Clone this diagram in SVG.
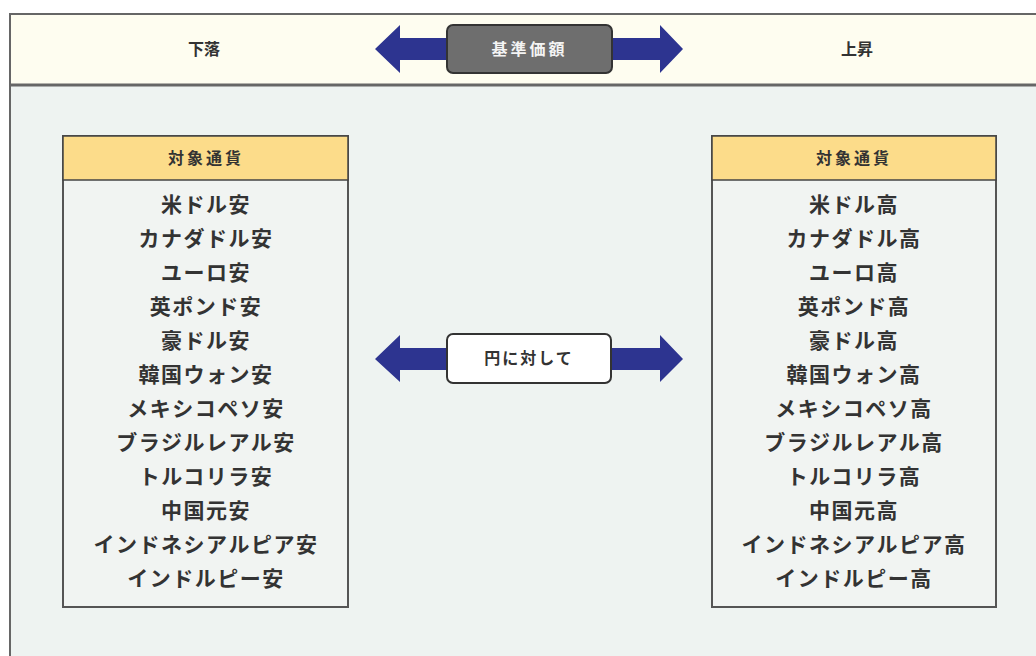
<svg xmlns="http://www.w3.org/2000/svg" width="1036" height="656" viewBox="0 0 1036 656">
<style>
.t{font-family:"Noto Sans CJK JP","Noto Sans CJK SC",sans-serif;font-weight:700;fill:#333;text-anchor:middle}
.sm{font-size:16px}
.it{font-size:21px;letter-spacing:1.5px}
.arrow{fill:#2d3490}
.box{fill:#f1f4f2;stroke:#555;stroke-width:2}
.hdr{fill:#fcdc8a;stroke:#444;stroke-width:1.5}
</style>
<rect width="1036" height="656" fill="#ffffff"/>
<g id="frame">
<rect x="10" y="14" width="1040" height="660" fill="#eef3f1" stroke="#666" stroke-width="2"/>
<rect x="10" y="14" width="1040" height="71" fill="#fefdf0" stroke="#666" stroke-width="2"/>
<line x1="10" y1="85" x2="1036" y2="85" stroke="#666" stroke-width="3"/>
</g>
<g id="connectors">
<polygon class="arrow" points="375,49 400,25 400,38 660,38 660,25 683,49 660,73 660,60 400,60 400,73"/>
<polygon class="arrow" points="375,359 400,335 400,348 660,348 660,335 683,359 660,382 660,370 400,370 400,382"/>
</g>
<g id="label-down"><text class="t sm" x="204" y="55">下落</text></g>
<g id="label-up"><text class="t sm" x="857" y="55">上昇</text></g>
<g id="base">
<rect x="447" y="25" width="165" height="48" rx="6" fill="#6e6e6e" stroke="#333" stroke-width="2"/>
<text class="t sm" x="529.5" y="55" style="fill:#f4f4f4;letter-spacing:3px">基準価額</text>
</g>
<g id="vs-yen">
<rect x="447" y="334" width="164" height="49" rx="6" fill="#ffffff" stroke="#333" stroke-width="2"/>
<text class="t sm" x="529" y="364" style="letter-spacing:2px">円に対して</text>
</g>
<g id="left-box">
<rect class="box" x="63" y="136" width="285" height="471"/>
<rect class="hdr" x="63" y="136" width="285" height="44"/>
<text class="t sm" x="206" y="164" style="letter-spacing:3px">対象通貨</text>
<text class="t it" x="206" y="212">米ドル安</text>
<text class="t it" x="206" y="246">カナダドル安</text>
<text class="t it" x="206" y="280">ユーロ安</text>
<text class="t it" x="206" y="314">英ポンド安</text>
<text class="t it" x="206" y="348">豪ドル安</text>
<text class="t it" x="206" y="382">韓国ウォン安</text>
<text class="t it" x="206" y="416">メキシコペソ安</text>
<text class="t it" x="206" y="450">ブラジルレアル安</text>
<text class="t it" x="206" y="484">トルコリラ安</text>
<text class="t it" x="206" y="518">中国元安</text>
<text class="t it" x="206" y="552">インドネシアルピア安</text>
<text class="t it" x="206" y="586">インドルピー安</text>
</g>
<g id="right-box">
<rect class="box" x="712" y="136" width="284" height="471"/>
<rect class="hdr" x="712" y="136" width="284" height="44"/>
<text class="t sm" x="854" y="164" style="letter-spacing:3px">対象通貨</text>
<text class="t it" x="854" y="212">米ドル高</text>
<text class="t it" x="854" y="246">カナダドル高</text>
<text class="t it" x="854" y="280">ユーロ高</text>
<text class="t it" x="854" y="314">英ポンド高</text>
<text class="t it" x="854" y="348">豪ドル高</text>
<text class="t it" x="854" y="382">韓国ウォン高</text>
<text class="t it" x="854" y="416">メキシコペソ高</text>
<text class="t it" x="854" y="450">ブラジルレアル高</text>
<text class="t it" x="854" y="484">トルコリラ高</text>
<text class="t it" x="854" y="518">中国元高</text>
<text class="t it" x="854" y="552">インドネシアルピア高</text>
<text class="t it" x="854" y="586">インドルピー高</text>
</g>
</svg>
